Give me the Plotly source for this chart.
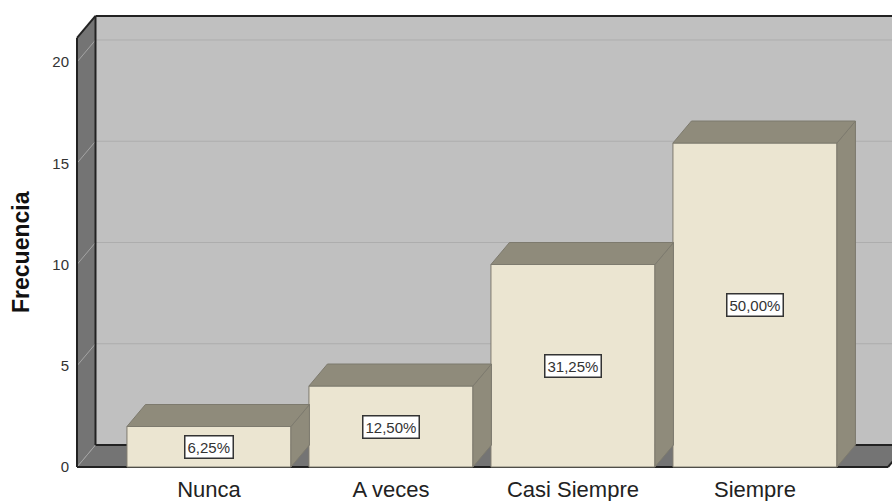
import plotly.graph_objects as go

# ---------------- data ----------------
categories = ["Nunca", "A veces", "Casi Siempre", "Siempre"]
frecuencia = [2, 4, 10, 16]
y_ticks = [0, 5, 10, 15, 20]

total = sum(frecuencia)
pct_labels = [f"{v / total * 100:.2f}%".replace(".", ",") for v in frecuencia]

# ---------------- geometry (pseudo 3D) ----------------
W, H = 892, 501
PX_CAT = 182.0      # pixels per category
PX_UNIT = 20.25     # pixels per value unit
DX = 18.5 / PX_CAT  # depth offset in category units
DY = 22.0 / PX_UNIT # depth offset in value units
BAR_W = 164.0 / PX_CAT
X0 = -0.725         # front edge of left wall
XR = 3.731          # front right corner of floor
WALL_TOP = 21.19    # top of the walls (front plane)

# plot area in page pixels: left 74, top 12, bottom 470, right 892
ML, MR, MT, MB = 74, 0, 12, 501 - 470
x_lo = X0 - 3 / PX_CAT
x_hi = x_lo + (W - ML - MR) / PX_CAT
y_lo = -3.0 / PX_UNIT
y_hi = y_lo + (H - MT - MB) / PX_UNIT

WALL_BACK = "#c0c0c0"
WALL_DARK = "#747474"
BAR_FRONT = "#ebe5d1"
BAR_SHADE = "#8f8b7b"
BAR_EDGE = "#7d7a6e"
OUTLINE = "#222222"
FONT = "Liberation Sans, Arial, sans-serif"


def poly(pts):
    return "M " + " L ".join(f"{x},{y}" for x, y in pts) + " Z"


shapes = []
# back wall
shapes.append(dict(type="path", layer="below", xref="x", yref="y",
                   path=poly([(X0 + DX, DY), (x_hi + 1, DY), (x_hi + 1, WALL_TOP + DY), (X0 + DX, WALL_TOP + DY)]),
                   fillcolor=WALL_BACK, line=dict(width=0)))
# left wall
shapes.append(dict(type="path", layer="below", xref="x", yref="y",
                   path=poly([(X0, 0), (X0, WALL_TOP), (X0 + DX, WALL_TOP + DY), (X0 + DX, DY)]),
                   fillcolor=WALL_DARK, line=dict(width=0)))
# floor
shapes.append(dict(type="path", layer="below", xref="x", yref="y",
                   path=poly([(X0, 0), (XR, 0), (XR + DX, DY), (X0 + DX, DY)]),
                   fillcolor=WALL_DARK, line=dict(width=0)))
# gridlines
for v in y_ticks:
    if v > 0:
        shapes.append(dict(type="line", layer="below", xref="x", yref="y",
                           x0=X0 + DX, x1=x_hi + 1, y0=v + DY, y1=v + DY,
                           line=dict(color="#adadad", width=1)))
    shapes.append(dict(type="line", layer="below", xref="x", yref="y",
                       x0=X0, x1=X0 + DX, y0=v, y1=v + DY,
                       line=dict(color="#a4a4a4", width=1)))
# outlines
outline_segments = [
    ((X0, 0), (X0, WALL_TOP)),
    ((X0, WALL_TOP), (X0 + DX, WALL_TOP + DY)),
    ((X0 + DX, WALL_TOP + DY), (x_hi + 1, WALL_TOP + DY)),
    ((X0 + DX, DY), (X0 + DX, WALL_TOP + DY)),
    ((X0 + DX, DY), (x_hi + 1, DY)),
    ((X0, 0), (XR, 0)),
    ((XR, 0), (XR + DX, DY)),
]
for (a, b) in outline_segments:
    shapes.append(dict(type="line", layer="below", xref="x", yref="y",
                       x0=a[0], y0=a[1], x1=b[0], y1=b[1],
                       line=dict(color=OUTLINE, width=2)))

fig = go.Figure()

xs = list(range(len(categories)))
fig.add_trace(go.Bar(x=xs, y=frecuencia, width=BAR_W,
                     marker=dict(color=BAR_FRONT, line=dict(color=BAR_EDGE, width=1)),
                     hoverinfo="skip", showlegend=False))

for i, v in enumerate(frecuencia):
    xl = i - BAR_W / 2
    xr = i + BAR_W / 2
    top = [(xl, v), (xr, v), (xr + DX, v + DY), (xl + DX, v + DY), (xl, v)]
    side = [(xr, 0), (xr, v), (xr + DX, v + DY), (xr + DX, DY), (xr, 0)]
    for pts in (side, top):
        fig.add_trace(go.Scatter(x=[p[0] for p in pts], y=[p[1] for p in pts],
                                 mode="lines", fill="toself", fillcolor=BAR_SHADE,
                                 line=dict(color=BAR_EDGE, width=1),
                                 hoverinfo="skip", showlegend=False))

annotations = []
for i, v in enumerate(frecuencia):
    annotations.append(dict(x=i, y=v / 2, xref="x", yref="y", text=pct_labels[i],
                            showarrow=False, bgcolor="white", bordercolor="#333333",
                            borderwidth=1.5, borderpad=2,
                            font=dict(family=FONT, size=15, color="#333333")))
# y axis title
annotations.append(dict(text="<b>Frecuencia</b>", textangle=-90, showarrow=False,
                        xref="paper", x=0, xanchor="center", xshift=21 - ML,
                        yref="paper", y=(470 - 252) / (H - MT - MB), yanchor="middle",
                        font=dict(family=FONT, size=23, color="#111111")))

fig.update_layout(
    width=W, height=H,
    margin=dict(l=ML, r=MR, t=MT, b=MB, pad=0, autoexpand=False),
    paper_bgcolor="white", plot_bgcolor="white",
    shapes=shapes, annotations=annotations,
    showlegend=False, bargap=0, hovermode=False,
    xaxis=dict(range=[x_lo, x_hi], tickvals=xs, ticktext=categories,
               showgrid=False, zeroline=False, showline=False, ticks="",
               ticklabelstandoff=4,
               tickfont=dict(family=FONT, size=22, color="#222222"),
               automargin=False, fixedrange=True),
    yaxis=dict(range=[y_lo, y_hi], tickvals=y_ticks, ticktext=[str(t) for t in y_ticks],
               showgrid=False, zeroline=False, showline=False, ticks="",
               ticklabelstandoff=4,
               tickfont=dict(family=FONT, size=15, color="#333333"),
               automargin=False, fixedrange=True),
)

fig.write_html("out.html",
               config={"displayModeBar": False, "staticPlot": True},
               post_script="document.body.style.margin='0px';document.body.style.overflow='hidden';")
